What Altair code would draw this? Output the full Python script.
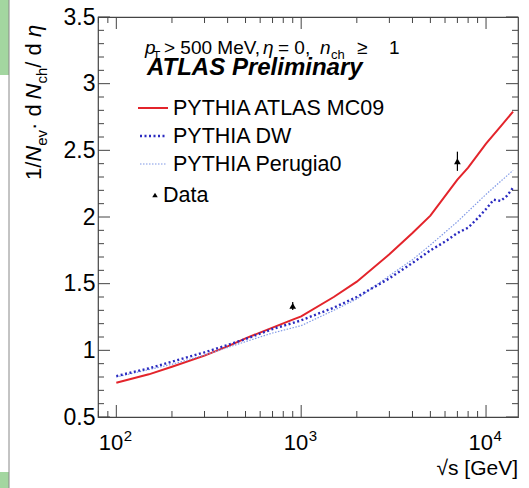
import altair as alt
import pandas as pd

# ---- data ----
mc09_s = [100, 150, 200, 300, 400, 500, 700, 900, 1000, 1500, 2000, 3000, 4000, 5000, 7000, 8000, 10000, 12000, 14000]
mc09_v = [0.757, 0.82, 0.877, 0.96, 1.03, 1.09, 1.17, 1.23, 1.255, 1.40, 1.515, 1.72, 1.88, 2.01, 2.28, 2.37, 2.55, 2.68, 2.79]

dw_s = [100, 150, 200, 300, 400, 500, 700, 900, 1000, 1500, 2000, 3000, 4000, 5000, 6000, 7000, 8000, 9000, 10000, 11000, 12000, 13000, 14000]
dw_v = [0.807, 0.865, 0.915, 0.985, 1.04, 1.085, 1.16, 1.205, 1.225, 1.32, 1.40, 1.54, 1.655, 1.75, 1.815, 1.88, 1.92, 1.99, 2.06, 2.13, 2.12, 2.16, 2.22]

p0_s = [100, 200, 300, 500, 700, 1000, 1500, 2000, 3000, 4000, 5000, 7000, 10000, 14000]
p0_v = [0.80, 0.895, 0.965, 1.065, 1.13, 1.185, 1.30, 1.385, 1.56, 1.68, 1.79, 1.965, 2.17, 2.35]

data_s = [900, 7000]
data_v = [1.333, 2.418]
data_err = [0.03, 0.072]

y_major = [0.5, 1.0, 1.5, 2.0, 2.5, 3.0, 3.5]
y_minor = [round(0.5 + 0.1 * i, 1) for i in range(31)]
y_minor = [v for v in y_minor if v not in y_major]
x_major = [100, 1000, 10000]
x_major_exp = ["2", "3", "4"]
x_minor = [m * 10 ** k for k in range(1, 5) for m in range(2, 10)]
x_minor = [v for v in x_minor if 79.6 <= v <= 14890]

W, H = 420, 400
FONT = "Liberation Sans"

xscale = alt.Scale(type="log", domain=[79.6, 14890])
yscale = alt.Scale(domain=[0.5, 3.5], zero=False)

xaxis = alt.Axis(values=x_major, title="", ticks=False, domain=False, grid=False, labels=False)
yaxis = alt.Axis(values=y_major, title="", ticks=False, domain=False, grid=False, format="~g",
                 labelFont=FONT, labelFontSize=23, labelColor="black", labelPadding=3,
                 labelOverlap=False, labelFlush=False)


def X(field="s:Q"):
    return alt.X(field, scale=xscale, axis=xaxis)


def Y(field="v:Q"):
    return alt.Y(field, scale=yscale, axis=yaxis)


df_mc09 = pd.DataFrame({"s": mc09_s, "v": mc09_v})
df_dw = pd.DataFrame({"s": dw_s, "v": dw_v})
df_p0 = pd.DataFrame({"s": p0_s, "v": p0_v})
df_data = pd.DataFrame({"s": data_s, "v": data_v,
                        "lo": [v - e for v, e in zip(data_v, data_err)],
                        "hi": [v + e for v, e in zip(data_v, data_err)]})
df_xlab = pd.DataFrame({"s": x_major, "base": ["10"] * 3, "exp": x_major_exp})

RED = "#e3242b"
DWC = "#2a2ac0"
P0C = "#7f98e6"
FRAME = "#444444"

layers = []

# curves
layers.append(alt.Chart(df_mc09).mark_line(color=RED, strokeWidth=2)
              .encode(x=X(), y=Y()))
layers.append(alt.Chart(df_p0).mark_line(color=P0C, strokeWidth=1.2, strokeDash=[1.5, 1.5])
              .encode(x=X(), y=Y()))
layers.append(alt.Chart(df_dw).mark_line(color=DWC, strokeWidth=2.4, strokeDash=[2, 2.5])
              .encode(x=X(), y=Y()))

# data points with error bars
layers.append(alt.Chart(df_data).mark_rule(color="black", strokeWidth=1.2)
              .encode(x=X(), y=Y("lo:Q"), y2="hi:Q"))
layers.append(alt.Chart(df_data).mark_point(shape="triangle-up", filled=True, color="black",
                                            size=45, opacity=1)
              .encode(x=X(), y=Y()))

# inward ticks on all four sides
for vals, ln in ((y_major, 12), (y_minor, 6)):
    d = pd.DataFrame({"v": vals})
    layers.append(alt.Chart(d).mark_rule(color=FRAME, strokeWidth=1)
                  .encode(y=Y(), x=alt.value(0), x2=alt.value(ln)))
    layers.append(alt.Chart(d).mark_rule(color=FRAME, strokeWidth=1)
                  .encode(y=Y(), x=alt.value(W), x2=alt.value(W - ln)))
for vals, ln in ((x_major, 12), (x_minor, 6)):
    d = pd.DataFrame({"s": vals})
    layers.append(alt.Chart(d).mark_rule(color=FRAME, strokeWidth=1)
                  .encode(x=X(), y=alt.value(H), y2=alt.value(H - ln)))
    layers.append(alt.Chart(d).mark_rule(color=FRAME, strokeWidth=1)
                  .encode(x=X(), y=alt.value(0), y2=alt.value(ln)))

# x tick labels 10^n, placed through the x scale
layers.append(alt.Chart(df_xlab).mark_text(font=FONT, fontSize=22, align="right", dx=7,
                                           baseline="alphabetic", color="black")
              .encode(x=X(), y=alt.value(433), text="base:N"))
layers.append(alt.Chart(df_xlab).mark_text(font=FONT, fontSize=15, align="left", dx=7.5,
                                           baseline="alphabetic", color="black")
              .encode(x=X(), y=alt.value(424), text="exp:N"))


def txt(s, x, y, size, angle=0, style="normal", weight="normal", align="left"):
    return (alt.Chart(pd.DataFrame({"t": [s]}))
            .mark_text(font=FONT, fontSize=size, fontStyle=style, fontWeight=weight,
                       align=align, baseline="alphabetic", angle=angle, color="black")
            .encode(text="t:N", x=alt.value(x), y=alt.value(y)))


# header texts
layers += [
    txt("p", 47, 37, 19, style="italic"),
    txt("T", 55, 43, 12),
    txt("> 500 MeV,", 66, 37, 19),
    txt("η", 165, 37, 19, style="italic"),
    txt("= 0,", 180, 37, 19),
    txt("n", 222, 37, 19, style="italic"),
    txt("ch", 233, 42, 13),
    txt("≥", 259, 37, 19),
    txt("1", 291, 37, 19),
    txt("ATLAS Preliminary", 49, 58, 24, style="italic", weight="bold"),
]

# legend
one = pd.DataFrame({"a": [0]})
layers.append(alt.Chart(one).mark_rule(color=RED, strokeWidth=2)
              .encode(x=alt.value(40), x2=alt.value(70), y=alt.value(91)))
layers.append(alt.Chart(one).mark_rule(color=DWC, strokeWidth=2.4, strokeDash=[2, 2.5])
              .encode(x=alt.value(42), x2=alt.value(68), y=alt.value(119)))
layers.append(alt.Chart(one).mark_rule(color=P0C, strokeWidth=1.2, strokeDash=[1.5, 1.5])
              .encode(x=alt.value(42), x2=alt.value(68), y=alt.value(147)))
layers.append(alt.Chart(one).mark_point(shape="triangle-up", filled=True,
                                        color="black", size=30, opacity=1)
              .encode(x=alt.value(57), y=alt.value(178)))
layers += [
    txt("PYTHIA ATLAS MC09", 75, 98, 21.5),
    txt("PYTHIA DW", 75, 126, 21.5),
    txt("PYTHIA Perugia0", 75, 154, 21.5),
    txt("Data", 65, 185, 21.5),
]

# axis titles
layers.append(txt("√s [GeV]", 420, 458, 21, align="right"))
YB, YS = -57, -51
layers += [
    txt("1/", YB, 163, 22, angle=270),
    txt("N", YB, 144.7, 22, angle=270, style="italic"),
    txt("ev", YS, 128.8, 15, angle=270),
    txt(" · d", YB, 113, 22, angle=270),
    txt("N", YB, 82.4, 22, angle=270, style="italic"),
    txt("ch", YS, 66.5, 15, angle=270),
    txt(" / d", YB, 50.7, 22, angle=270),
    txt("η", YB, 20.1, 22, angle=270, style="italic"),
]

# neighbouring panel strip at the left edge of the picture
layers.append(alt.Chart(one).mark_rect(color="#a3d6a0")
              .encode(x=alt.value(-98), x2=alt.value(-89), y=alt.value(-17), y2=alt.value(58)))
layers.append(alt.Chart(one).mark_rect(color="#a3d6a0")
              .encode(x=alt.value(-98), x2=alt.value(-89), y=alt.value(455), y2=alt.value(471)))
layers.append(alt.Chart(one).mark_rule(color="#888888", strokeWidth=1)
              .encode(x=alt.value(-89), y=alt.value(-17), y2=alt.value(471)))

chart = (alt.layer(*layers)
         .properties(width=W, height=H,
                     autosize=alt.AutoSizeParams(type="none"),
                     padding={"left": 98, "top": 17, "right": 11, "bottom": 71})
         .configure_view(stroke=FRAME, strokeWidth=1.2))

chart.save("out.html", embed_options={"renderer": "svg", "actions": False})
